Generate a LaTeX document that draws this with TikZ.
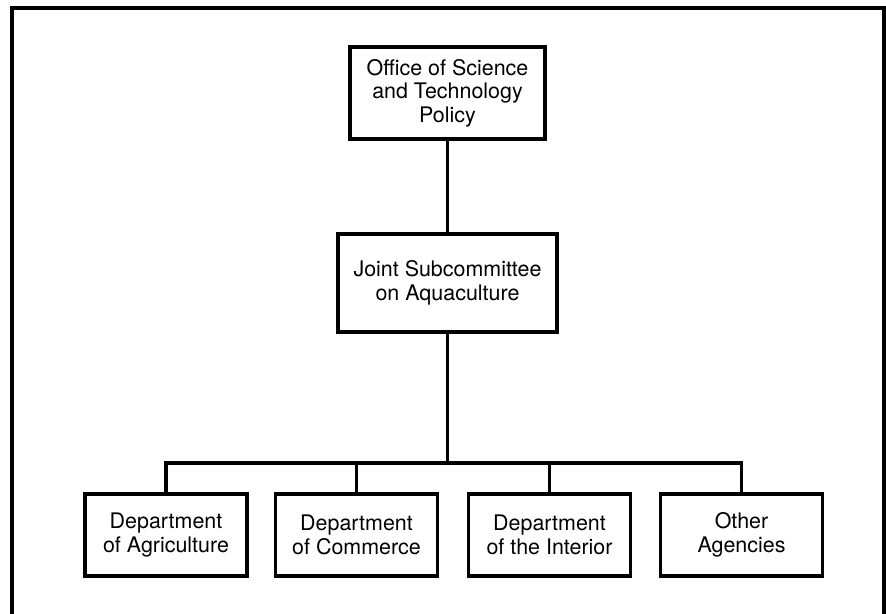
\documentclass[tikz,border=0pt]{standalone}
\usepackage{fontspec}
\setmainfont{TeX Gyre Heros}
\tikzset{
    orgbox/.style={draw, line width=1.8pt, align=center, inner sep=2pt,
        font=\fontsize{12.2}{13.4}\selectfont},
    deptbox/.style={orgbox, minimum width=3.24cm, minimum height=1.64cm},
    link/.style={line width=1.8pt}
}
\begin{document}
        \begin{tikzpicture}
            \useasboundingbox (0, 0) rectangle (17.72, -12.28);
            \draw[line width=1.8pt] (0.24, -12.28) -- (0.24, -0.16) -- (17.68, -0.16) -- (17.68, -12.28);
            \node[orgbox, minimum width=3.9cm, minimum height=1.84cm] (ostp) at (8.95, -1.86) {Office of Science\\and Technology\\Policy};
            \node[orgbox, minimum width=4.38cm, minimum height=1.96cm] (jsa) at (8.95, -5.66) {Joint Subcommittee\\on Aquaculture};
            \node[deptbox] (agri) at (3.32, -10.70) {Department\\of Agriculture};
            \node[deptbox] (comm) at (7.13, -10.70) {Department\\of Commerce};
            \node[deptbox] (inter) at (10.99, -10.70) {Department\\of the Interior};
            \node[deptbox] (other) at (14.83, -10.70) {Other\\Agencies};
            \coordinate (bus) at (8.95, -9.26);
            \draw[link] (ostp) -- (jsa);
            \draw[link] (jsa) -- (bus);
            \draw[link] (agri.north) |- (bus) -| (other.north);
            \draw[link] (comm.north) -- (comm.north |- bus);
            \draw[link] (inter.north) -- (inter.north |- bus);
        \end{tikzpicture}
\end{document}
